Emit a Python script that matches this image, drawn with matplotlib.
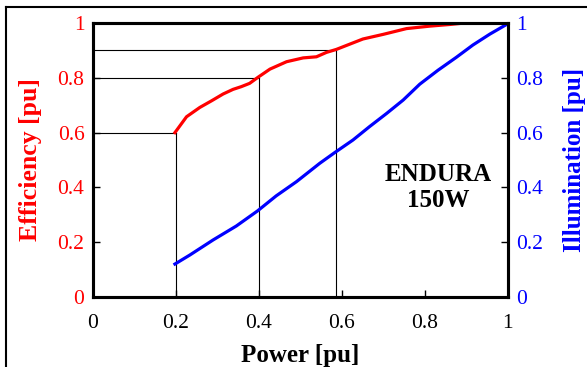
import matplotlib.pyplot as plt
from matplotlib.lines import Line2D

# 效率曲线 (Power, Efficiency)
eff_p = [0.198, 0.226, 0.258, 0.286, 0.314, 0.338, 0.358, 0.378, 0.398, 0.427, 0.467,
         0.507, 0.539, 0.563, 0.587, 0.651, 0.70, 0.756, 0.812, 0.86, 0.893, 0.997]
eff_v = [0.60, 0.658, 0.692, 0.716, 0.741, 0.758, 0.768, 0.78, 0.802, 0.832, 0.859,
         0.873, 0.877, 0.893, 0.904, 0.942, 0.959, 0.98, 0.989, 0.995, 1.0, 1.0]

# 光照曲线 (Power, Illumination)
ill_p = [0.198, 0.234, 0.29, 0.346, 0.397, 0.442, 0.491, 0.547, 0.583, 0.627,
         0.667, 0.708, 0.748, 0.788, 0.832, 0.876, 0.916, 0.957, 0.997]
ill_v = [0.12, 0.153, 0.208, 0.259, 0.314, 0.369, 0.421, 0.488, 0.527, 0.573,
         0.622, 0.67, 0.719, 0.777, 0.828, 0.875, 0.92, 0.96, 0.995]

# 参考线 (x, y)
ref_x = [0.2, 0.4, 0.585]
ref_y = [0.6, 0.8, 0.9]

ticks = [0, 0.2, 0.4, 0.6, 0.8, 1]
tick_labels = ['0', '0.2', '0.4', '0.6', '0.8', '1']

plt.rcParams['font.family'] = ['Liberation Serif', 'DejaVu Serif']

fig = plt.figure(figsize=(5.87, 3.67), dpi=100)
ax = fig.add_axes([0.158, 0.191, 0.707, 0.746])

for x, y in zip(ref_x, ref_y):
    ax.plot([0, x], [y, y], color='black', lw=0.8)
    ax.plot([x, x], [0, y], color='black', lw=0.8)

ax.plot(eff_p, eff_v, color='red', lw=2.3)
ax.set_xlim(0, 1)
ax.set_ylim(0, 1)
ax.set_xticks(ticks)
ax.set_xticklabels(tick_labels)
ax.set_yticks(ticks)
ax.set_yticklabels(tick_labels)
ax.tick_params(axis='both', direction='in', length=5, width=1, labelsize=15.5, pad=6)
ax.tick_params(axis='x', pad=12)
ax.tick_params(axis='y', labelcolor='red')
ax.set_xlabel('Power [pu]', fontsize=18, fontweight='bold', labelpad=8)
ax.set_ylabel('Efficiency [pu]', fontsize=18.5, fontweight='bold', color='red', labelpad=11)

ax2 = ax.twinx()
ax2.plot(ill_p, ill_v, color='blue', lw=2.3)
ax2.set_ylim(0, 1)
ax2.set_yticks(ticks)
ax2.set_yticklabels(tick_labels)
ax2.tick_params(axis='y', direction='in', length=5, width=1, labelsize=15.5, labelcolor='blue', pad=6)
ax2.set_ylabel('Illumination [pu]', fontsize=18, fontweight='bold', color='blue', labelpad=14)

for a in (ax, ax2):
    for s in a.spines.values():
        s.set_linewidth(2.2)

ax.text(0.833, 0.40, 'ENDURA\n150W', ha='center', va='center', fontsize=18,
        fontweight='bold', linespacing=1.15)

# 外框
fig.add_artist(Line2D([0.01, 1.0], [0.981, 0.981], color='black', lw=1.5))
fig.add_artist(Line2D([0.01, 0.01], [0.0, 0.981], color='black', lw=1.5))

fig.savefig('out.png', dpi=100)
